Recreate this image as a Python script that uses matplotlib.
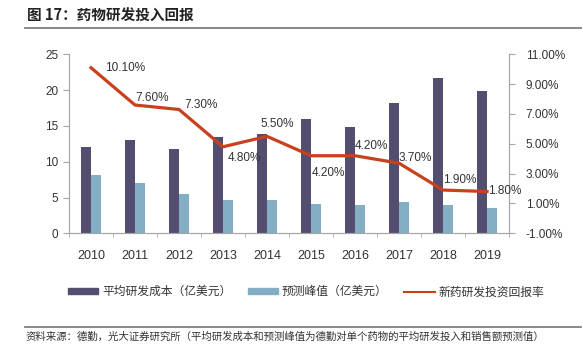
import numpy as np
import matplotlib
matplotlib.use("Agg")
from matplotlib import pyplot as plt
from matplotlib.lines import Line2D

years = ['2010', '2011', '2012', '2013', '2014', '2015', '2016', '2017', '2018', '2019']
rd_cost = [12.0, 13.1, 11.8, 13.4, 13.9, 15.9, 14.8, 18.2, 21.7, 19.9]
peak_sales = [8.1, 7.0, 5.5, 4.6, 4.6, 4.1, 4.0, 4.4, 4.0, 3.6]
roi = [10.1, 7.6, 7.3, 4.8, 5.5, 4.2, 4.2, 3.7, 1.9, 1.8]
roi_labels = ['10.10%', '7.60%', '7.30%', '4.80%', '5.50%', '4.20%', '4.20%', '3.70%', '1.90%', '1.80%']
# label offsets in pixels (dx, dy)
label_offsets = [(14, 0), (0, 7), (5, 4), (5, -11), (-7, 12), (1, -17), (0, 10), (0, 5), (0, 10), (1, 1)]

series_names = ['平均研发成本（亿美元）', '预测峰值（亿美元）', '新药研发投资回报率']
title = '图 17：药物研发投入回报'
source = '资料来源：德勤，光大证券研究所（平均研发成本和预测峰值为德勤对单个药物的平均研发投入和销售额预测值）'

dark = '#534E70'
light = '#84AEC3'
red = '#C9401C'
grey = '#A6A6A6'
txt = '#333333'
latin = ['Liberation Sans', 'Noto Sans CJK SC']
cjk = ['Noto Sans CJK SC', 'DejaVu Sans']

fig = plt.figure(figsize=(5.83, 3.51), dpi=100)
W, H = 583, 351
ax = fig.add_axes([69 / W, 1 - 233.3 / H, 440 / W, (233.3 - 54.3) / H])
ax2 = ax.twinx()

x = np.arange(len(years))
w = 0.227
ax.bar(x - w / 2, rd_cost, w, color=dark, zorder=2)
ax.bar(x + w / 2, peak_sales, w, color=light, zorder=2)
ax.set_xlim(-0.5, len(years) - 0.5)
ax.set_ylim(0, 25)
ax.set_yticks(range(0, 26, 5))
ax.set_xticks(x)
ax.set_xticklabels(years, family=latin, fontsize=9, color=txt)
ax.set_xticks(np.arange(-0.5, len(years), 1), minor=True)
ax.tick_params(axis='x', which='major', length=0, pad=12)
ax.tick_params(axis='x', which='minor', length=3, color=grey, direction='out')
ax.tick_params(axis='y', length=4, color=grey, labelsize=8.5, labelcolor=txt)
for lab in ax.get_yticklabels():
    lab.set_family(latin)

ax2.plot(x, roi, color=red, lw=2.3, zorder=3)
ax2.set_ylim(-1, 11)
ax2.set_yticks(np.arange(-1, 12, 2))
ax2.set_yticklabels(['%.2f%%' % v for v in np.arange(-1, 12, 2)], family=latin, fontsize=8.5, color=txt)
ax2.tick_params(axis='y', length=4, color=grey, pad=8)
ax.set_zorder(ax2.get_zorder() - 1)
ax.patch.set_visible(False)

for i, (v, s) in enumerate(zip(roi, roi_labels)):
    dx, dy = label_offsets[i]
    ax2.annotate(s, (x[i], v), xytext=(dx, dy), textcoords='offset pixels',
                 ha='left', va='center', fontsize=8.5, family=latin, color=txt)

for a in (ax, ax2):
    for side in ('top',):
        a.spines[side].set_visible(False)
    for side in ('left', 'right', 'bottom'):
        a.spines[side].set_color(grey)
        a.spines[side].set_linewidth(0.8)

handles = [plt.Rectangle((0, 0), 1, 1, color=dark),
           plt.Rectangle((0, 0), 1, 1, color=light),
           Line2D([0], [0], color=red, lw=1.5)]
fig.legend(handles, series_names, loc='center', bbox_to_anchor=(306 / W, 1 - 291.7 / H),
           ncol=3, frameon=False, prop={'family': cjk, 'size': 8.5},
           handlelength=2.6, handleheight=0.45, handletextpad=0.3, columnspacing=1.4,
           labelcolor=txt)

fig.text(27 / W, 1 - 16 / H, title, family=cjk, fontsize=10.5, fontweight='bold',
         va='center', ha='left', color='#222222')
fig.add_artist(Line2D([25 / W, 581 / W], [1 - 28 / H, 1 - 28 / H], color='#7F7F7F', lw=1.3))
fig.add_artist(Line2D([25 / W, 581 / W], [1 - 326.7 / H, 1 - 326.7 / H], color='#7F7F7F', lw=1.3))
fig.text(26 / W, 1 - 337 / H, source, family=cjk, fontsize=7.5, va='center', ha='left', color=txt)

fig.savefig('out.png', dpi=100)
